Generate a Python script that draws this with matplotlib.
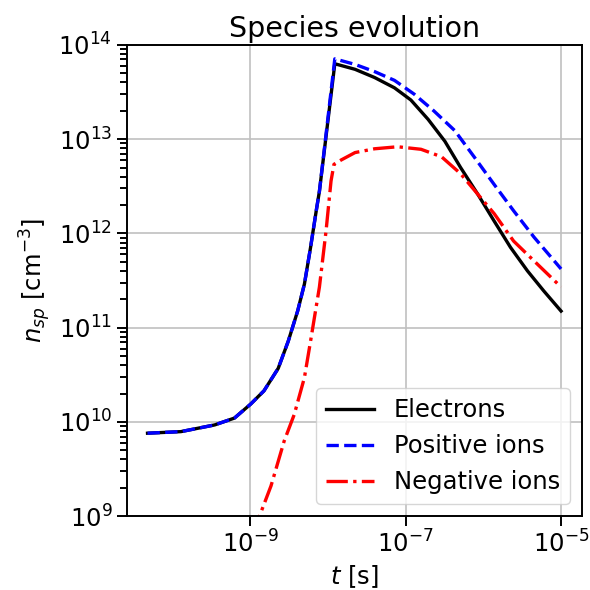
import numpy as np
import matplotlib
matplotlib.use("Agg")
import matplotlib.pyplot as plt
from matplotlib.ticker import FixedLocator, NullLocator, LogLocator

matplotlib.rcParams.update(
    {
        'font.size': 17.5,
        'axes.titlesize': 20.5,
        'axes.labelsize': 17.5,
        'axes.linewidth': 1.4,
        'legend.fontsize': 17.5,
        'figure.facecolor': 'white',
    }
)

# electrons: time [s], density [cm^-3]
t_e = [4.8e-11, 1.29e-10, 3.5e-10, 6.3e-10, 1.02e-9, 1.51e-9, 2.3e-9, 3.1e-9, 4.1e-9,
       5.0e-9, 6.0e-9, 7.1e-9, 7.8e-9, 1.23e-8, 2.24e-8, 4.0e-8, 7.2e-8, 1.17e-7,
       1.95e-7, 3.2e-7, 5.1e-7, 8.5e-7, 1.38e-6, 2.24e-6, 3.7e-6, 6.0e-6, 1.0e-5]
n_e = [7.6e9, 7.9e9, 9.3e9, 1.10e10, 1.55e10, 2.14e10, 3.7e10, 7.2e10, 1.51e11,
       2.9e11, 7.1e11, 1.74e12, 2.8e12, 6.3e13, 5.5e13, 4.5e13, 3.5e13, 2.6e13,
       1.62e13, 9.5e12, 5.0e12, 2.6e12, 1.35e12, 7.1e11, 4.0e11, 2.45e11, 1.5e11]

# positive ions
t_pos = [4.8e-11, 1.29e-10, 3.5e-10, 6.3e-10, 1.02e-9, 1.51e-9, 2.3e-9, 3.1e-9, 4.1e-9,
         5.0e-9, 6.0e-9, 7.1e-9, 7.8e-9, 1.23e-8, 2.24e-8, 4.0e-8, 7.2e-8, 1.29e-7,
         2.3e-7, 4.3e-7, 7.6e-7, 1.38e-6, 2.45e-6, 4.5e-6, 1.0e-5]
n_pos = [7.6e9, 7.9e9, 9.3e9, 1.10e10, 1.55e10, 2.14e10, 3.7e10, 7.2e10, 1.51e11,
         2.9e11, 7.1e11, 1.74e12, 2.8e12, 7.1e13, 6.2e13, 5.2e13, 4.2e13, 3.0e13,
         2.0e13, 1.23e13, 6.5e12, 3.3e12, 1.74e12, 9.1e11, 4.2e11]

# negative ions
t_neg = [1.07e-9, 1.32e-9, 1.86e-9, 2.75e-9, 3.7e-9, 5.0e-9, 6.0e-9, 7.8e-9, 9.5e-9,
         1.10e-8, 1.20e-8, 1.48e-8, 2.24e-8, 4.0e-8, 7.9e-8, 1.58e-7, 2.9e-7, 5.1e-7,
         8.5e-7, 1.38e-6, 2.45e-6, 4.5e-6, 1.0e-5]
n_neg = [6.3e8, 1.0e9, 2.1e9, 6.3e9, 1.2e10, 2.95e10, 7.2e10, 2.7e11, 1.07e12,
         3.6e12, 5.4e12, 6.0e12, 7.2e12, 7.9e12, 8.3e12, 7.8e12, 6.5e12, 4.3e12,
         2.6e12, 1.62e12, 8.3e11, 5.1e11, 2.7e11]

fig = plt.figure(figsize=(5.9, 5.9), dpi=100)
ax = fig.add_axes([0.215, 0.125, 0.771, 0.799])

ax.plot(t_e, n_e, color='black', lw=2.4, label='Electrons')
ax.plot(t_pos, n_pos, color='blue', lw=2.4, ls='--', label='Positive ions')
ax.plot(t_neg, n_neg, color='red', lw=2.4, ls='-.', label='Negative ions')
ax.set_xscale('log')
ax.set_yscale('log')

ax.set_ylim(1e9, 1e14)
ax.xaxis.set_major_locator(FixedLocator([1e-9, 1e-7, 1e-5]))
ax.xaxis.set_minor_locator(NullLocator())
ax.yaxis.set_major_locator(LogLocator(base=10, numticks=12))
ax.yaxis.set_minor_locator(LogLocator(base=10, subs=(2, 3, 4, 5, 6, 7, 8, 9), numticks=60))
ax.tick_params(axis='both', which='major', labelsize=17.5, length=7, width=1.4)
ax.tick_params(axis='y', which='minor', length=5, width=1.4, color='black')
ax.grid(True, which='major', color='#c0c0c0', lw=1.2)

ax.set_title('Species evolution')
ax.set_xlabel(r'$t$ [s]')
ax.set_ylabel(r'$n_{sp}$ [cm$^{-3}$]')
ax.legend(loc='lower right')

plt.savefig('out.png', dpi=100)
